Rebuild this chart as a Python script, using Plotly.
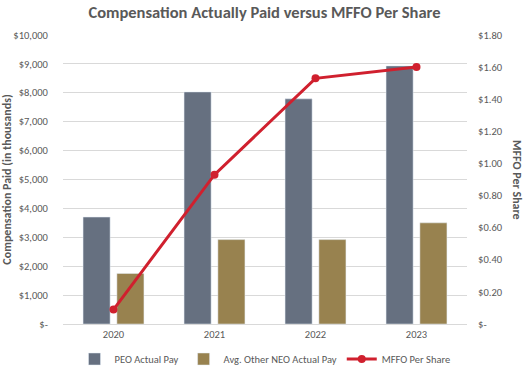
import plotly.graph_objects as go

years = ["2020", "2021", "2022", "2023"]
peo_pay = [3700, 8030, 7790, 8930]
neo_pay = [1750, 2920, 2920, 3500]
mffo = [0.09, 0.93, 1.53, 1.60]

left_vals = [0, 1000, 2000, 3000, 4000, 5000, 6000, 7000, 8000, 9000, 10000]
left_text = ["$-", "$1,000", "$2,000", "$3,000", "$4,000", "$5,000", "$6,000", "$7,000", "$8,000", "$9,000", "$10,000"]
right_vals = [0, 0.2, 0.4, 0.6, 0.8, 1.0, 1.2, 1.4, 1.6, 1.8]
right_text = ["$-", "$0.20", "$0.40", "$0.60", "$0.80", "$1.00", "$1.20", "$1.40", "$1.60", "$1.80"]

FONT = "Calibri, Carlito, Lato, 'Open Sans', sans-serif"
GREY = "#595959"

L, R, T, B = 63, 62, 35, 51
W, H = 529, 375
pw, ph = W - L - R, H - T - B

fig = go.Figure()
fig.add_trace(go.Bar(x=years, y=peo_pay, name="PEO Actual Pay", marker_color="#667080"))
fig.add_trace(go.Bar(x=years, y=neo_pay, name="Avg. Other NEO Actual Pay", marker_color="#98824F"))
fig.add_trace(go.Scatter(x=years, y=mffo, name="MFFO Per Share", yaxis="y2",
                         mode="lines+markers",
                         line=dict(color="#D0202E", width=3),
                         marker=dict(color="#D0202E", size=8)))

fig.update_layout(
    width=W, height=H,
    margin=dict(l=L, r=R, t=T, b=B, autoexpand=False),
    paper_bgcolor="white", plot_bgcolor="white",
    font=dict(family=FONT, size=10.5, color=GREY),
    title=dict(text="<b>Compensation Actually Paid versus MFFO Per Share</b>",
               x=0.5, xanchor="center", y=1 - 12 / H, yanchor="middle",
               font=dict(size=16.5, color=GREY, family=FONT)),
    barmode="group", bargap=0.33, bargroupgap=0.2,
    showlegend=True,
    legend=dict(orientation="h", x=0.5, xanchor="center",
                yref="container", y=1 - 359 / H, yanchor="middle",
                font=dict(size=10.5, color=GREY), itemwidth=30, traceorder="normal"),
    xaxis=dict(showgrid=False, showline=True, linecolor="#d9d9d9", linewidth=1,
               ticks="", tickfont=dict(size=10.5, color=GREY), automargin=False),
    yaxis=dict(range=[0, 10000], tickvals=left_vals, ticktext=left_text,
               showgrid=True, gridcolor="#d9d9d9", gridwidth=1, zeroline=False,
               ticks="outside", ticklen=12, tickcolor="rgba(0,0,0,0)", automargin=False,
               title=dict(text="<b>Compensation Paid (in thousands)</b>", standoff=6,
                          font=dict(size=12, color=GREY))),
    yaxis2=dict(range=[0, 1.8], tickvals=right_vals, ticktext=right_text,
                overlaying="y", side="right", showgrid=False, zeroline=False,
                ticks="outside", ticklen=8, tickcolor="rgba(0,0,0,0)", automargin=False),
    annotations=[dict(text="<b>MFFO Per Share</b>", textangle=90,
                      x=(517 - L) / pw, y=(H - B - 180) / ph,
                      xref="paper", yref="paper", xanchor="center", yanchor="middle",
                      showarrow=False, font=dict(size=12, color=GREY))],
)

fig.write_html("out.html", config={"displayModeBar": False},
               post_script="document.body.style.margin='0';")
